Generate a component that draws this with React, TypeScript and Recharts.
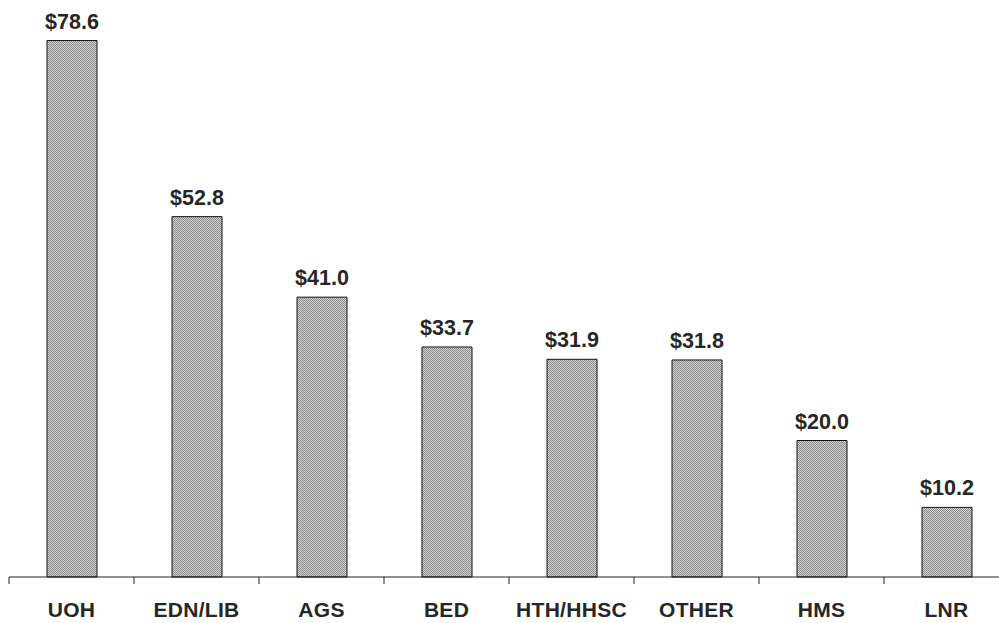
import { BarChart, Bar, XAxis, YAxis, LabelList } from "recharts";

const categories = ["UOH", "EDN/LIB", "AGS", "BED", "HTH/HHSC", "OTHER", "HMS", "LNR"];
const amounts = [78.6, 52.8, 41.0, 33.7, 31.9, 31.8, 20.0, 10.2];
const valueLabels = ["$78.6", "$52.8", "$41.0", "$33.7", "$31.9", "$31.8", "$20.0", "$10.2"];

const data = categories.map((name, i) => ({ name, amount: amounts[i], label: valueLabels[i] }));

const FONT = "'Liberation Sans', Arial, sans-serif";
const HALF_BAND = 62.5;

function CategoryTick(props: any) {
  const { x, y, payload } = props;
  return (
    <g>
      <line x1={x - HALF_BAND} y1={y} x2={x - HALF_BAND} y2={y + 7} stroke="#222" strokeWidth={1} />
      <text
        x={x}
        y={y + 40}
        textAnchor="middle"
        fontFamily={FONT}
        fontWeight="bold"
        fontSize={21}
        letterSpacing={0.3}
        fill="#262626"
      >
        {payload.value}
      </text>
    </g>
  );
}

export default function App() {
  return (
    <div style={{ position: "absolute", left: 0, top: 0, width: 999, height: 623, overflow: "hidden", background: "#fff" }}>
      <BarChart width={1010} height={623} data={data} margin={{ top: 31, right: 1, left: 9, bottom: 0 }}>
        <defs>
          <pattern id="halftone" width="2" height="2" patternUnits="userSpaceOnUse">
            <rect width="2" height="2" fill="#d2d2d2" />
            <rect x="0" y="0" width="1" height="1" fill="#8c8c8c" />
            <rect x="1" y="1" width="1" height="1" fill="#8c8c8c" />
          </pattern>
        </defs>
        <XAxis
          dataKey="name"
          height={46}
          axisLine={{ stroke: "#222", strokeWidth: 1 }}
          tickLine={false}
          tickSize={0}
          tickMargin={0}
          interval={0}
          tick={<CategoryTick />}
        />
        <YAxis hide domain={[0, 80]} />
        <Bar dataKey="amount" fill="url(#halftone)" stroke="#111" strokeWidth={1} barSize={50} isAnimationActive={false}>
          <LabelList
            dataKey="label"
            position="top"
            offset={12}
            style={{ fontFamily: FONT, fontWeight: "bold", fontSize: 21.5, fill: "#262626" }}
          />
        </Bar>
      </BarChart>
    </div>
  );
}
